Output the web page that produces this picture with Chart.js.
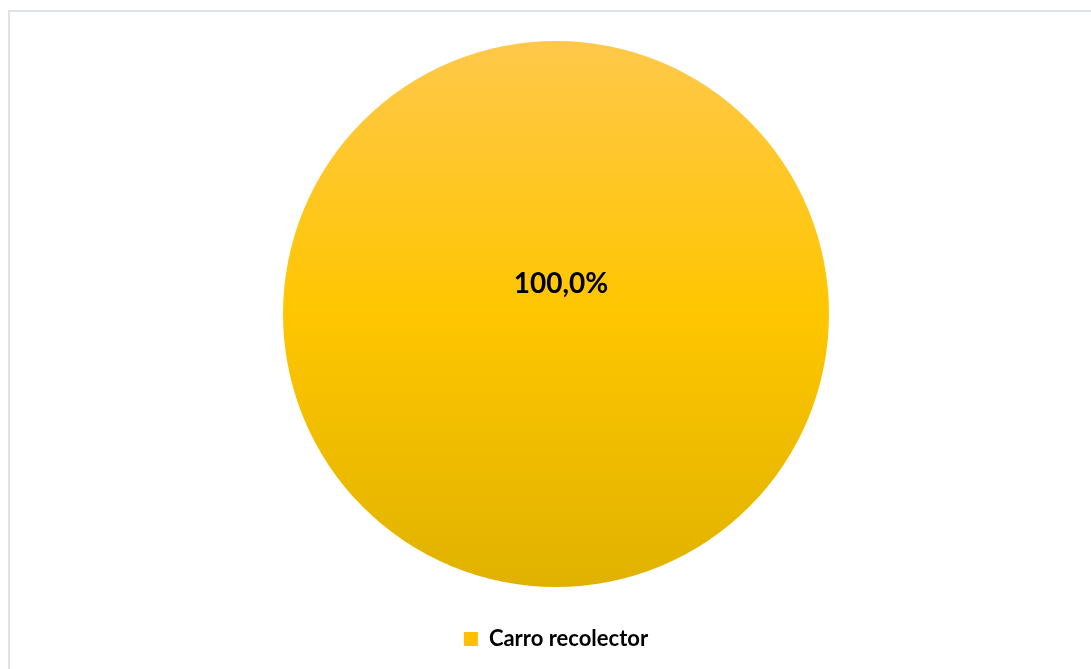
<!DOCTYPE html>
<html>
<head>
<meta charset="utf-8">
<script src="https://cdn.jsdelivr.net/npm/chart.js@4.4.1/dist/chart.umd.min.js"></script>
<style>
  html, body { margin: 0; padding: 0; background: #fff; overflow: hidden; }
  #wrap { position: absolute; left: 0; top: 0; width: 1091px; height: 669px; overflow: hidden; }
  #frame { position: absolute; left: 8px; top: 10px; right: -2px; bottom: -2px;
           border-left: 2px solid #e0e3e6; border-top: 2px solid #e0e3e6; }
  canvas { position: absolute; left: 0; top: 0; }
</style>
</head>
<body>
<div id="wrap">
  <div id="frame"></div>
  <canvas id="pieChart" width="1091" height="669"></canvas>
</div>
<script>
// categories and values
let categorias = ['Carro recolector'];
let valores = [100];

const fuente = 'Lato, "Open Sans", sans-serif';

// vertical gradient over the pie
function rellenoPie(ctx) {
    const area = ctx.chart.chartArea;
    if (!area) return '#FFC000';
    const g = ctx.chart.ctx.createLinearGradient(0, area.top, 0, area.bottom);
    g.addColorStop(0, '#FFC84A');
    g.addColorStop(0.5, '#FFC600');
    g.addColorStop(1, '#E0B200');
    return g;
}

// percentage label drawn on each slice
const etiquetaPorcentaje = {
    id: 'etiquetaPorcentaje',
    afterDatasetsDraw(chart) {
        const c = chart.ctx;
        const data = chart.data.datasets[0].data;
        const total = data.reduce((a, b) => a + b, 0);
        chart.getDatasetMeta(0).data.forEach(function (arc, i) {
            const pct = (data[i] / total * 100).toFixed(1).replace('.', ',') + '%';
            let x, y;
            if (data[i] === total) {
                x = arc.x + 5;
                y = arc.y - arc.outerRadius * 0.11;
            } else {
                const p = arc.tooltipPosition();
                x = p.x; y = p.y;
            }
            c.save();
            c.font = 'bold 28px ' + fuente;
            c.fillStyle = '#000';
            c.textAlign = 'center';
            c.textBaseline = 'middle';
            c.fillText(pct, x, y);
            c.restore();
        });
    }
};

const pieCtx = document.getElementById('pieChart').getContext('2d');
new Chart(pieCtx, {
    type: 'pie',
    data: {
        labels: categorias,
        datasets: [{
            data: valores,
            backgroundColor: rellenoPie,
            borderWidth: 0
        }]
    },
    options: {
        responsive: false,
        animation: false,
        layout: { padding: { top: 41, left: 21, right: 0, bottom: 9 } },
        plugins: {
            tooltip: { enabled: false },
            legend: {
                position: 'bottom',
                labels: {
                    boxWidth: 14,
                    boxHeight: 14,
                    padding: 41,
                    color: '#000',
                    font: { family: fuente, size: 22, weight: 'bold' },
                    generateLabels(chart) {
                        return chart.data.labels.map((l, i) => ({
                            text: l,
                            fillStyle: '#FFC000',
                            strokeStyle: '#FFC000',
                            lineWidth: 0,
                            index: i
                        }));
                    }
                }
            }
        }
    },
    plugins: [etiquetaPorcentaje]
});
</script>
</body>
</html>
